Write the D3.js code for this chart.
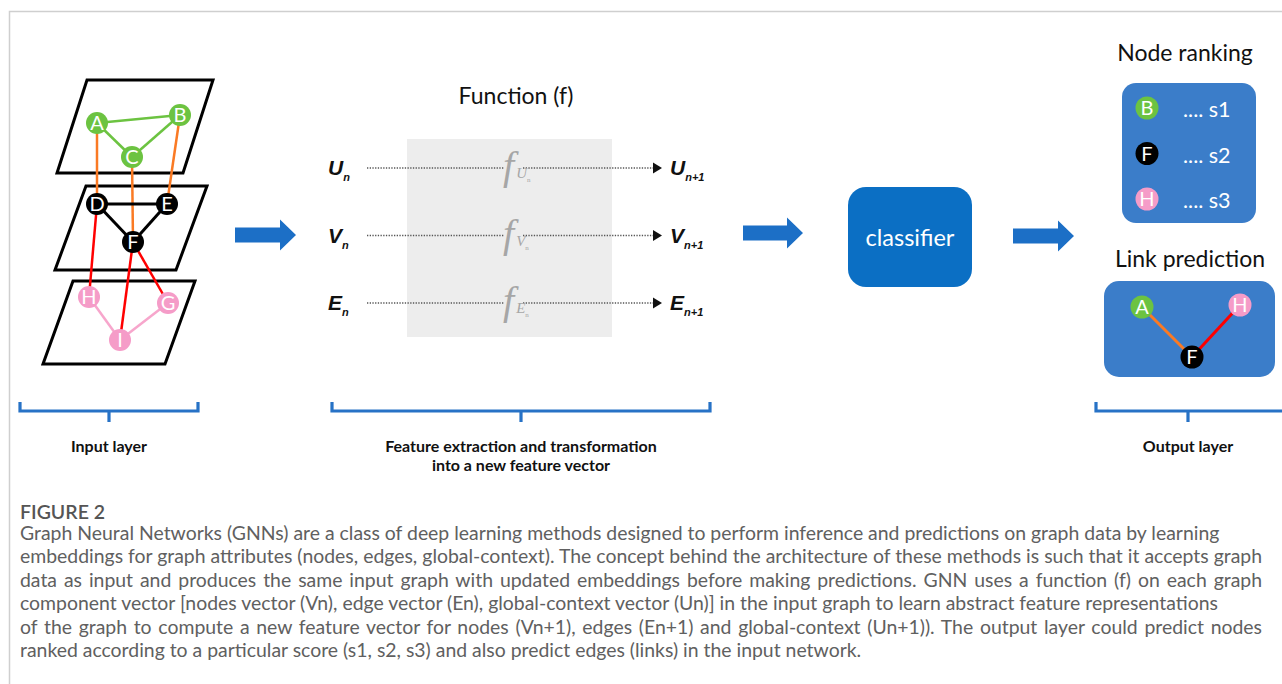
<!DOCTYPE html>
<html>
<head>
<meta charset="utf-8">
<script src="https://cdn.jsdelivr.net/npm/d3@7"></script>
<style>
  body { margin: 0; background: #fff; }
  svg  { display: block; }
</style>
</head>
<body>
<svg id="fig" width="1282" height="684"></svg>
<script>
// ── DATA ───────────────────────────────────────────────────────────────────
// input graph: three stacked planes, layout units in px of the left panel
const planeCorners = [
  [[87, 80], [213, 80], [183, 173], [57, 173]],
  [[86, 186], [207, 186], [176, 270], [55, 270]],
  [[73, 281], [195, 281], [165, 364], [43, 364]],
];
const graphNodes = [
  { id: 'A', x: 97,  y: 123, kind: 'green' },
  { id: 'B', x: 180, y: 115, kind: 'green' },
  { id: 'C', x: 132, y: 157, kind: 'green' },
  { id: 'D', x: 97,  y: 204, kind: 'black' },
  { id: 'E', x: 167, y: 204, kind: 'black' },
  { id: 'F', x: 133, y: 242, kind: 'black' },
  { id: 'H', x: 89,  y: 297, kind: 'pink' },
  { id: 'G', x: 168, y: 303, kind: 'pink' },
  { id: 'I', x: 120, y: 340, kind: 'pink' },
];
const graphEdges = [
  ['A', 'B', 'green'], ['A', 'C', 'green'], ['C', 'B', 'green'],
  ['A', 'D', 'orange'], ['C', 'F', 'orange'], ['B', 'E', 'orange'],
  ['D', 'E', 'black'], ['D', 'F', 'black'], ['E', 'F', 'black'],
  ['D', 'H', 'red'], ['F', 'I', 'red'], ['F', 'G', 'red'],
  ['H', 'I', 'pink'], ['I', 'G', 'pink'],
];

// function block rows
const vectorNames = ['U', 'V', 'E'];

// output: node ranking
const rankNodes  = ['B', 'F', 'H'];
const rankKinds  = ['green', 'black', 'pink'];
const rankScores = ['s1', 's2', 's3'];

// output: link prediction
const linkNodes = [
  { id: 'A', x: 1142, y: 307, kind: 'green' },
  { id: 'H', x: 1240, y: 305, kind: 'pink' },
  { id: 'F', x: 1192, y: 357, kind: 'black' },
];
const linkEdges = [['A', 'F', 'orange'], ['H', 'F', 'red']];

// bottom brace labels
const braceLabels = [
  ['Input layer'],
  ['Feature extraction and transformation', 'into a new feature vector'],
  ['Output layer'],
];

const captionTitle = 'FIGURE 2';
const captionLines = [
  'Graph Neural Networks (GNNs) are a class of deep learning methods designed to perform inference and predictions on graph data by learning',
  'embeddings for graph attributes (nodes, edges, global-context). The concept behind the architecture of these methods is such that it accepts graph',
  'data as input and produces the same input graph with updated embeddings before making predictions. GNN uses a function (f) on each graph',
  'component vector [nodes vector (Vn), edge vector (En), global-context vector (Un)] in the input graph to learn abstract feature representations',
  'of the graph to compute a new feature vector for nodes (Vn+1), edges (En+1) and global-context (Un+1)). The output layer could predict nodes',
  'ranked according to a particular score (s1, s2, s3) and also predict edges (links) in the input network.',
];
const captionJustify = [false, true, true, false, true, false];

// ── STYLE ──────────────────────────────────────────────────────────────────
const NODE_FILL = { green: '#6cc341', black: '#000000', pink: '#f59cc8' };
const EDGE_COL  = { green: '#6cc341', orange: '#fa7a24', black: '#000000', red: '#ff0000', pink: '#f7a6cc' };
const BLUE_DARK = '#0b6fc4';
const BLUE_MID  = '#3b7dc9';
const BLUE_LINE = '#2772c6';
const UI_FONT   = 'Lato, "Open Sans", sans-serif';
const VEC_FONT  = 'italic bold 21px "Liberation Sans", Arial, sans-serif';

const svg = d3.select('#fig');

// ── FRAME ──────────────────────────────────────────────────────────────────
svg.append('path')
  .attr('d', 'M9.5,684 V11.5 H1282')
  .attr('fill', 'none').attr('stroke', '#cfcfcf').attr('stroke-width', 1.5);

// ── HELPERS ────────────────────────────────────────────────────────────────
function drawNode(g, d, r, fs) {
  g.append('circle').attr('cx', d.x).attr('cy', d.y).attr('r', r)
    .attr('fill', NODE_FILL[d.kind]);
  g.append('text').attr('x', d.x).attr('y', d.y).attr('dy', '0.36em')
    .attr('text-anchor', 'middle').attr('fill', '#fff')
    .style('font', `${fs}px ${UI_FONT}`).text(d.id);
}

function drawEdges(g, edges, byId, width) {
  g.selectAll(null).data(edges).enter().append('line')
    .attr('x1', e => byId.get(e[0]).x).attr('y1', e => byId.get(e[0]).y)
    .attr('x2', e => byId.get(e[1]).x).attr('y2', e => byId.get(e[1]).y)
    .attr('stroke', e => EDGE_COL[e[2]])
    .attr('stroke-width', e => e[2] === 'black' ? 3 : width);
}

function blockArrow(x0, tip, cy) {
  const bh = 7.5, hh = 15.5, hw = 16;
  const xh = tip - hw;
  return `M${x0},${cy - bh} H${xh} V${cy - hh} L${tip},${cy} L${xh},${cy + hh} V${cy + bh} H${x0} Z`;
}

// ── INPUT GRAPH ────────────────────────────────────────────────────────────
const gIn = svg.append('g');
const line = d3.line();
gIn.selectAll(null).data(planeCorners).enter().append('path')
  .attr('d', p => line(p) + 'Z')
  .attr('fill', '#fff').attr('stroke', '#000').attr('stroke-width', 3)
  .attr('stroke-linejoin', 'miter');

const nodeById = new Map(graphNodes.map(d => [d.id, d]));
drawEdges(gIn, graphEdges, nodeById, 2.5);
graphNodes.forEach(d => drawNode(gIn, d, 11, 20));

// ── BIG BLUE ARROWS ────────────────────────────────────────────────────────
const arrows = [[235, 296, 235], [743, 803, 233], [1013, 1074, 236]];
svg.selectAll(null).data(arrows).enter().append('path')
  .attr('d', a => blockArrow(a[0], a[1], a[2]))
  .attr('fill', '#1c6fc6');

// ── FUNCTION BLOCK ─────────────────────────────────────────────────────────
const gFn = svg.append('g');
gFn.append('text').attr('x', 516).attr('y', 104).attr('text-anchor', 'middle')
  .attr('fill', '#111').style('font', `23px ${UI_FONT}`).text('Function (f)');

gFn.append('rect').attr('x', 407).attr('y', 139).attr('width', 205).attr('height', 198)
  .attr('fill', '#ededed');

const rowY = d3.scalePoint().domain(vectorNames).range([168, 303]);

vectorNames.forEach(v => {
  const y = rowY(v);
  // left label
  const tl = gFn.append('text').attr('x', 328).attr('y', y + 7)
    .style('font', VEC_FONT).attr('fill', '#111');
  tl.append('tspan').text(v);
  tl.append('tspan').attr('dy', 6).style('font-size', '11px').text('n');

  // dotted flow
  [[367, 504], [523, 653]].forEach(s => {
    gFn.append('line').attr('x1', s[0]).attr('x2', s[1]).attr('y1', y).attr('y2', y)
      .attr('stroke', '#555').attr('stroke-width', 1.3).attr('stroke-dasharray', '1.3,1.4');
  });
  gFn.append('path').attr('d', `M653,${y - 5.5} L662,${y} L653,${y + 5.5} Z`).attr('fill', '#111');

  // f glyph with subscript
  const tf = gFn.append('text').attr('x', 503).attr('y', y + 11)
    .style('font', 'italic 40px "Liberation Serif", "DejaVu Serif", serif').attr('fill', '#a6a6a6');
  tf.append('tspan').text('f');
  tf.append('tspan').attr('dx', 2).attr('dy', -1).style('font-size', '15px').text(v);
  tf.append('tspan').attr('dy', 4).style('font-size', '7px').style('font-style', 'normal').text('n');

  // right label
  const tr = gFn.append('text').attr('x', 670).attr('y', y + 7)
    .style('font', VEC_FONT).attr('fill', '#111');
  tr.append('tspan').text(v);
  tr.append('tspan').attr('dy', 6).style('font-size', '11px').text('n+1');
});

// ── CLASSIFIER ─────────────────────────────────────────────────────────────
svg.append('rect').attr('x', 848).attr('y', 187).attr('width', 124).attr('height', 100)
  .attr('rx', 18).attr('fill', BLUE_DARK);
svg.append('text').attr('x', 910).attr('y', 246).attr('text-anchor', 'middle')
  .attr('fill', '#fff').style('font', `23.5px ${UI_FONT}`).text('classifier');

// ── NODE RANKING ───────────────────────────────────────────────────────────
const gRank = svg.append('g');
gRank.append('text').attr('x', 1185).attr('y', 61).attr('text-anchor', 'middle')
  .attr('fill', '#111').style('font', `23px ${UI_FONT}`).text('Node ranking');
gRank.append('rect').attr('x', 1122).attr('y', 83).attr('width', 134).attr('height', 140)
  .attr('rx', 14).attr('fill', BLUE_MID);
const rankY = d3.scalePoint().domain(rankNodes).range([108, 199]);
rankNodes.forEach((id, i) => {
  drawNode(gRank, { id, x: 1147, y: rankY(id), kind: rankKinds[i] }, 11.5, 20);
  gRank.append('text').attr('x', 1183).attr('y', rankY(id) + 9)
    .attr('fill', '#fff').style('font', `21.5px ${UI_FONT}`).text('.... ' + rankScores[i]);
});

// ── LINK PREDICTION ────────────────────────────────────────────────────────
const gLink = svg.append('g');
gLink.append('text').attr('x', 1190).attr('y', 267).attr('text-anchor', 'middle')
  .attr('fill', '#111').style('font', `23px ${UI_FONT}`).text('Link prediction');
gLink.append('rect').attr('x', 1104).attr('y', 281).attr('width', 171).attr('height', 96)
  .attr('rx', 15).attr('fill', BLUE_MID);
const linkById = new Map(linkNodes.map(d => [d.id, d]));
drawEdges(gLink, linkEdges, linkById, 3);
linkNodes.forEach(d => drawNode(gLink, d, 11.5, 20));

// ── BRACES + LABELS ────────────────────────────────────────────────────────
const braces = [[20, 198], [332, 710], [1096, 1284]];
braces.forEach((b, i) => {
  const xm = i === 2 ? 1188 : (b[0] + b[1]) / 2;
  svg.append('path')
    .attr('d', `M${b[0]},402 V411 H${b[1]} V402 M${xm},411 V422`)
    .attr('fill', 'none').attr('stroke', BLUE_LINE).attr('stroke-width', 3.2);
  braceLabels[i].forEach((t, j) => {
    svg.append('text').attr('x', xm).attr('y', 452 + j * 19).attr('text-anchor', 'middle')
      .attr('fill', '#111').style('font', `bold 16px ${UI_FONT}`).text(t);
  });
});

// ── CAPTION ────────────────────────────────────────────────────────────────
const CAP_X = 20, CAP_RIGHT = 1262;
svg.append('text').attr('x', CAP_X).attr('y', 519)
  .attr('fill', '#555').style('font', '600 19.5px Lato, "Open Sans", sans-serif')
  .text(captionTitle);

const capTexts = svg.selectAll('text.cap').data(captionLines).enter().append('text')
  .attr('class', 'cap')
  .attr('x', CAP_X)
  .attr('y', (d, i) => 540 + i * 23.4)
  .attr('fill', '#606060')
  .style('font-family', 'Lato, "Open Sans", sans-serif')
  .style('font-size', '17px')
  .text(d => d);

// scale font so the first (unjustified) line ends where it does in the figure
const w0 = capTexts.node().getComputedTextLength();
const capSize = 17 * 1200 / w0;
capTexts.style('font-size', capSize + 'px');
capTexts.each(function(d, i) {
  if (!captionJustify[i]) return;
  const w = this.getComputedTextLength();
  const gaps = d.split(' ').length - 1;
  d3.select(this).style('word-spacing', ((CAP_RIGHT - CAP_X - w) / gaps) + 'px');
});
</script>
</body>
</html>
